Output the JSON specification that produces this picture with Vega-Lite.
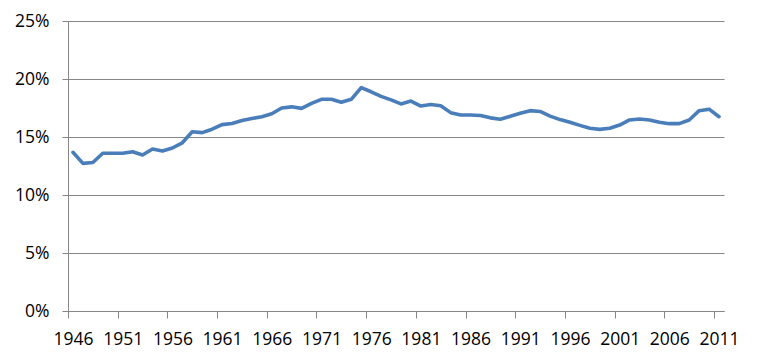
{
  "$schema": "https://vega.github.io/schema/vega-lite/v6.json",
  "width": 656,
  "height": 290,
  "autosize": {"type": "none"},
  "padding": {"left": 68, "top": 21, "right": 38, "bottom": 51},
  "background": "white",
  "config": {
    "view": {"stroke": null},
    "font": "Open Sans",
    "axis": {
      "labelFont": "Open Sans",
      "labelFontSize": 17.5,
      "labelColor": "#000000",
      "domainColor": "#868686",
      "tickColor": "#868686",
      "gridColor": "#868686",
      "domainWidth": 1,
      "tickWidth": 1,
      "gridWidth": 1,
      "title": null
    }
  },
  "data": {
    "values": [
      {"year": 1946, "pct": 13.68},
      {"year": 1947, "pct": 12.73},
      {"year": 1948, "pct": 12.8},
      {"year": 1949, "pct": 13.6},
      {"year": 1950, "pct": 13.6},
      {"year": 1951, "pct": 13.6},
      {"year": 1952, "pct": 13.73},
      {"year": 1953, "pct": 13.45},
      {"year": 1954, "pct": 13.97},
      {"year": 1955, "pct": 13.8},
      {"year": 1956, "pct": 14.05},
      {"year": 1957, "pct": 14.5},
      {"year": 1958, "pct": 15.45},
      {"year": 1959, "pct": 15.38},
      {"year": 1960, "pct": 15.67},
      {"year": 1961, "pct": 16.07},
      {"year": 1962, "pct": 16.17},
      {"year": 1963, "pct": 16.43},
      {"year": 1964, "pct": 16.6},
      {"year": 1965, "pct": 16.75},
      {"year": 1966, "pct": 17.0},
      {"year": 1967, "pct": 17.5},
      {"year": 1968, "pct": 17.6},
      {"year": 1969, "pct": 17.47},
      {"year": 1970, "pct": 17.9},
      {"year": 1971, "pct": 18.25},
      {"year": 1972, "pct": 18.25},
      {"year": 1973, "pct": 18.0},
      {"year": 1974, "pct": 18.25},
      {"year": 1975, "pct": 19.25},
      {"year": 1976, "pct": 18.9},
      {"year": 1977, "pct": 18.5},
      {"year": 1978, "pct": 18.2},
      {"year": 1979, "pct": 17.85},
      {"year": 1980, "pct": 18.1},
      {"year": 1981, "pct": 17.67},
      {"year": 1982, "pct": 17.8},
      {"year": 1983, "pct": 17.7},
      {"year": 1984, "pct": 17.1},
      {"year": 1985, "pct": 16.9},
      {"year": 1986, "pct": 16.9},
      {"year": 1987, "pct": 16.85},
      {"year": 1988, "pct": 16.65},
      {"year": 1989, "pct": 16.53},
      {"year": 1990, "pct": 16.78},
      {"year": 1991, "pct": 17.05},
      {"year": 1992, "pct": 17.27},
      {"year": 1993, "pct": 17.2},
      {"year": 1994, "pct": 16.8},
      {"year": 1995, "pct": 16.5},
      {"year": 1996, "pct": 16.27},
      {"year": 1997, "pct": 16.0},
      {"year": 1998, "pct": 15.75},
      {"year": 1999, "pct": 15.66},
      {"year": 2000, "pct": 15.75},
      {"year": 2001, "pct": 16.03},
      {"year": 2002, "pct": 16.47},
      {"year": 2003, "pct": 16.55},
      {"year": 2004, "pct": 16.47},
      {"year": 2005, "pct": 16.27},
      {"year": 2006, "pct": 16.15},
      {"year": 2007, "pct": 16.15},
      {"year": 2008, "pct": 16.47},
      {"year": 2009, "pct": 17.27},
      {"year": 2010, "pct": 17.4},
      {"year": 2011, "pct": 16.75}
    ]
  },
  "mark": {
    "type": "line",
    "color": "#4a7ebb",
    "strokeWidth": 3.6,
    "strokeJoin": "round",
    "strokeCap": "round"
  },
  "encoding": {
    "x": {
      "field": "year",
      "type": "quantitative",
      "scale": {"domain": [1945.5, 2011.5], "nice": false, "zero": false},
      "axis": {
        "values": [1945.5, 1950.5, 1955.5, 1960.5, 1965.5, 1970.5, 1975.5, 1980.5, 1985.5, 1990.5, 1995.5, 2000.5, 2005.5, 2010.5],
        "labelExpr": "toString(datum.value + 0.5)",
        "labelOffset": 5,
        "tickSize": 7,
        "labelPadding": 12,
        "labelFlush": false,
        "labelOverlap": false,
        "grid": false
      }
    },
    "y": {
      "field": "pct",
      "type": "quantitative",
      "scale": {"domain": [0, 25], "nice": false},
      "axis": {
        "values": [0, 5, 10, 15, 20, 25],
        "labelExpr": "datum.value + '%'",
        "tickSize": 6,
        "labelPadding": 13,
        "grid": true
      }
    }
  }
}
